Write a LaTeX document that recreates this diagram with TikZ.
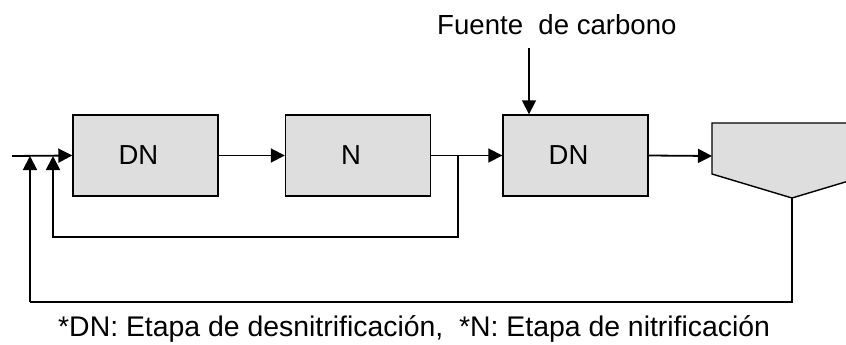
\documentclass[tikz,border=0pt]{standalone}
\usepackage{fontspec}
\setmainfont{Liberation Sans}
\usetikzlibrary{arrows.meta}
\tikzset{
  x=1pt, y=-1pt,
  blk/.style={draw=black, line width=1.4pt, fill=black!13, minimum width=145pt, minimum height=81pt, inner sep=0pt, font=\fontsize{27.5}{30}\selectfont},
  flow/.style={line width=1.8pt, -{Triangle[length=14pt,width=14pt]}},
  plain/.style={line width=1.8pt},
  lbl/.style={inner sep=0pt, anchor=base west}
}
\newcommand{\blktext}[1]{\hspace*{-14pt}\raisebox{-2pt}{#1}}
\begin{document}
\begin{tikzpicture}
\useasboundingbox (0,0) rectangle (846,345);
\node[blk] (dn1) at (145.5,155.5) {\blktext{DN}};
\node[blk] (n) at (358,155.5) {\blktext{N}};
\node[blk] (dn2) at (575.5,155.5) {\blktext{DN}};
% settler
\draw[line width=1.4pt, fill=black!13] (712,123) -- (712,174) -- (792,198) -- (872,174) -- (872,123) -- cycle;
\coordinate (setin) at (712,156);
\coordinate (setbot) at (792,198);
\coordinate (start) at (12,156);
\coordinate (j1) at (458,156);
\coordinate (m1) at (53,156);
\coordinate (m2) at (30,156);
\coordinate (carbtop) at (529,48);
\node[lbl, font=\fontsize{27.6}{30}\selectfont] (carb) at (437,35) {Fuente\ \ de carbono};
\node[lbl, font=\fontsize{28.4}{30}\selectfont] (cap) at (58,336) {*DN: Etapa de desnitrificación,\ \ *N: Etapa de nitrificación};
% connectors
\draw[flow] (start) -- (dn1.west);
\draw[flow] (dn1.east) -- (n.west);
\draw[flow] (n.east) -- (dn2.west);
\draw[flow] (dn2.east) -- (setin);
\draw[flow] (carbtop) -- (carbtop |- dn2.north);
\draw[plain] (j1) -- (458,237) -- (53,237) -- ++(0,-1);
\draw[flow] (53,237) -- (m1);
\draw[plain] (setbot) -- (792,302) -- (30,302);
\draw[flow] (30,302) -- (m2);
\end{tikzpicture}
\end{document}
